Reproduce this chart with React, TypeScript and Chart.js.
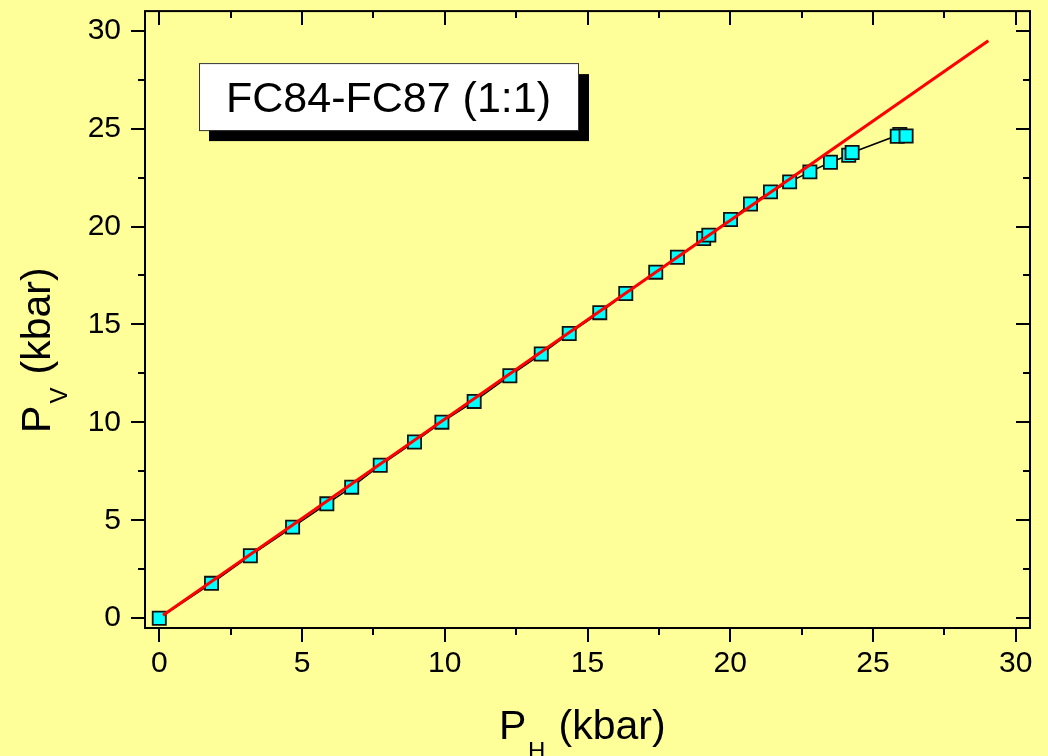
import React, { useEffect, useRef } from "react";
import { Chart, registerables } from "chart.js";

Chart.register(...registerables);

// Measured data: P_H (kbar) vs P_V (kbar)
const pH = [0, 1.83, 3.19, 4.67, 5.87, 6.74, 7.74, 8.94, 9.9, 11.03, 12.28, 13.38, 14.36, 15.43, 16.34, 17.39, 18.15, 19.07, 19.25, 20.01, 20.71, 21.41, 22.08, 22.79, 23.51, 24.15, 24.27, 25.94, 25.85, 26.16];
const pV = [0, 1.78, 3.19, 4.65, 5.84, 6.69, 7.81, 9.0, 10.01, 11.07, 12.38, 13.49, 14.54, 15.6, 16.58, 17.67, 18.43, 19.39, 19.56, 20.36, 21.15, 21.77, 22.28, 22.79, 23.28, 23.64, 23.78, 24.7, 24.61, 24.62];

// 1:1 reference line end points
const fitX = [0.13, 29.04];
const fitY = [0.15, 29.49];

const xTicks = [0, 5, 10, 15, 20, 25, 30];
const yTicks = [0, 5, 10, 15, 20, 25, 30];
const minorStep = 2.5;

const boxLabel = "FC84-FC87 (1:1)";
const xTitle = { main: "P", sub: "H", unit: "(kbar)" };
const yTitle = { main: "P", sub: "V", unit: "(kbar)" };

const BG = "#FFFF99";
const FONT = '"Liberation Sans", Arial, sans-serif';

const framePlugin = {
  id: "frameDecor",
  beforeDraw(chart: any) {
    const ctx = chart.ctx;
    ctx.save();
    ctx.fillStyle = BG;
    ctx.fillRect(0, 0, chart.width, chart.height);
    ctx.restore();
  },
  afterDraw(chart: any) {
    const ctx = chart.ctx;
    const ca = chart.chartArea;
    const xs = chart.scales.x;
    const ys = chart.scales.y;
    ctx.save();
    ctx.strokeStyle = "#000";
    ctx.lineWidth = 2;
    ctx.lineCap = "butt";
    // frame
    ctx.strokeRect(ca.left, ca.top, ca.right - ca.left, ca.bottom - ca.top);
    // ticks
    const major = 14;
    const minor = 7;
    ctx.beginPath();
    for (let v = 0; v <= 30.001; v += minorStep) {
      const isMajor = Math.abs(v / 5 - Math.round(v / 5)) < 1e-6;
      const len = isMajor ? major : minor;
      const px = Math.round(xs.getPixelForValue(v));
      ctx.moveTo(px, ca.bottom);
      ctx.lineTo(px, ca.bottom + len);
      ctx.moveTo(px, ca.top);
      ctx.lineTo(px, ca.top + len);
      const py = Math.round(ys.getPixelForValue(v));
      ctx.moveTo(ca.left, py);
      ctx.lineTo(ca.left - len, py);
      ctx.moveTo(ca.right, py);
      ctx.lineTo(ca.right - len, py);
    }
    ctx.stroke();

    // annotation box with shadow
    const bx = ca.left + 54;
    const by = ca.top + 52;
    const bw = 379;
    const bh = 67;
    ctx.fillStyle = "#000";
    ctx.fillRect(bx + 10, by + 11, bw + 1, bh);
    ctx.fillStyle = "#fff";
    ctx.fillRect(bx, by, bw, bh);
    ctx.lineWidth = 1;
    ctx.strokeStyle = "#333";
    ctx.strokeRect(bx + 0.5, by + 0.5, bw, bh);
    ctx.fillStyle = "#000";
    ctx.font = `43px ${FONT}`;
    ctx.textAlign = "center";
    ctx.textBaseline = "alphabetic";
    ctx.fillText(boxLabel, bx + bw / 2, by + 48.5);

    // x title
    ctx.textAlign = "left";
    ctx.font = `41px ${FONT}`;
    ctx.fillText(xTitle.main, 499, 739);
    ctx.font = `24px ${FONT}`;
    ctx.fillText(xTitle.sub, 528, 759);
    ctx.font = `41px ${FONT}`;
    ctx.fillText(xTitle.unit, 558.5, 739);

    // y title
    ctx.save();
    ctx.translate(50, 433);
    ctx.rotate(-Math.PI / 2);
    ctx.font = `41px ${FONT}`;
    ctx.fillText(yTitle.main, 0, 0);
    ctx.font = `24px ${FONT}`;
    ctx.fillText(yTitle.sub, 29.5, 17);
    ctx.font = `41px ${FONT}`;
    ctx.fillText(yTitle.unit, 58.5, 0);
    ctx.restore();

    ctx.restore();
  },
};

export default function App() {
  const ref = useRef<HTMLCanvasElement>(null);
  useEffect(() => {
    if (!ref.current) return;
    const chart = new Chart(ref.current, {
      type: "scatter",
      data: {
        datasets: [
          {
            label: "1:1",
            data: fitX.map((x, i) => ({ x, y: fitY[i] })),
            showLine: true,
            borderColor: "#FF0000",
            borderWidth: 3,
            pointRadius: 0,
            pointHoverRadius: 0,
          },
          {
            label: "FC84-FC87",
            data: pH.map((x, i) => ({ x, y: pV[i] })),
            showLine: true,
            borderColor: "#000",
            borderWidth: 1.5,
            pointStyle: "rect",
            pointRadius: 9.3,
            pointHoverRadius: 9.3,
            pointBackgroundColor: "#00FFFF",
            pointBorderColor: "#111",
            pointBorderWidth: 1.8,
          },
        ],
      },
      options: {
        responsive: false,
        animation: false,
        events: [],
        layout: { padding: { top: 9, right: 18, left: 0, bottom: 0 } },
        plugins: {
          legend: { display: false },
          tooltip: { enabled: false },
          title: { display: false },
        },
        scales: {
          x: {
            type: "linear",
            min: -0.5,
            max: 30.5,
            grid: { display: false, drawTicks: false },
            border: { display: false },
            afterBuildTicks: (s: any) => {
              s.ticks = xTicks.map((v) => ({ value: v }));
            },
            afterFit: (s: any) => {
              s.height = 128;
              s.paddingLeft = 0;
              s.paddingRight = 0;
            },
            ticks: {
              padding: 18,
              color: "#000",
              font: { family: FONT, size: 30 },
              maxRotation: 0,
              callback: (v: any) => String(v),
            },
          },
          y: {
            type: "linear",
            min: -0.5,
            max: 31,
            grid: { display: false, drawTicks: false },
            border: { display: false },
            afterBuildTicks: (s: any) => {
              s.ticks = yTicks.map((v) => ({ value: v }));
            },
            afterFit: (s: any) => {
              s.width = 145;
              s.paddingTop = 0;
              s.paddingBottom = 0;
            },
            ticks: {
              padding: 24,
              color: "#000",
              font: { family: FONT, size: 30 },
              callback: (v: any) => String(v),
            },
          },
        },
      },
      plugins: [framePlugin],
    });
    return () => chart.destroy();
  }, []);
  return (
    <div style={{ position: "fixed", left: 0, top: 0, width: 1048, height: 756, background: BG }}>
      <canvas ref={ref} width={1048} height={756} style={{ display: "block" }} />
    </div>
  );
}
